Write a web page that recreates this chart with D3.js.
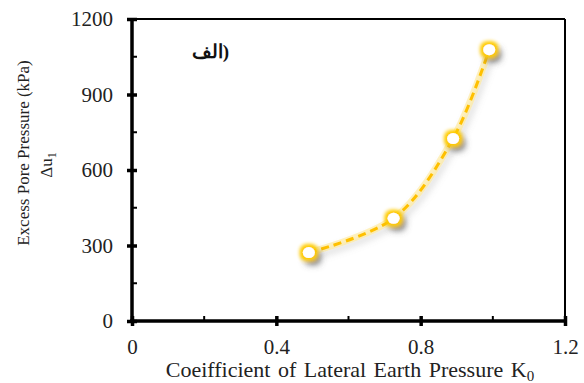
<!doctype html>
<html>
<head>
<meta charset="utf-8">
<script src="https://d3js.org/d3.v7.min.js"></script>
<style>
    body { margin: 0; background: #fff; }
    text { font-family: "Liberation Serif", "Times New Roman", serif; }
</style>
</head>
<body>
<svg width="584" height="383"></svg>
<script>
    var k0 = [0.49, 0.725, 0.89, 0.99];
    var du = [272, 408, 725, 1078];
    var xTicks = [0, 0.4, 0.8, 1.2];
    var yTicks = [0, 300, 600, 900, 1200];

    var svg = d3.select("svg"),
        pLeft = 132, pRight = 565, pTop = 19, pBottom = 321;

    var x = d3.scaleLinear().domain([0, 1.2]).range([pLeft, pRight]),
        y = d3.scaleLinear().domain([0, 1200]).range([pBottom, pTop]);

    var defs = svg.append("defs");
    var glow = defs.append("filter").attr("id", "glow")
        .attr("x", "-150%").attr("y", "-150%").attr("width", "400%").attr("height", "400%");
    glow.append("feMorphology").attr("in", "SourceAlpha").attr("operator", "dilate").attr("radius", 2).attr("result", "d1");
    glow.append("feGaussianBlur").attr("in", "d1").attr("stdDeviation", 3).attr("result", "b1");
    glow.append("feOffset").attr("in", "b1").attr("dx", 4).attr("dy", 5).attr("result", "o1");
    glow.append("feFlood").attr("flood-color", "#555").attr("flood-opacity", 0.75);
    glow.append("feComposite").attr("in2", "o1").attr("operator", "in").attr("result", "shadow");
    glow.append("feMorphology").attr("in", "SourceAlpha").attr("operator", "dilate").attr("radius", 2).attr("result", "d2");
    glow.append("feGaussianBlur").attr("in", "d2").attr("stdDeviation", 2).attr("result", "b2");
    glow.append("feFlood").attr("flood-color", "#ffcc00").attr("flood-opacity", 1);
    glow.append("feComposite").attr("in2", "b2").attr("operator", "in").attr("result", "yel");
    var m = glow.append("feMerge");
    m.append("feMergeNode").attr("in", "shadow");
    m.append("feMergeNode").attr("in", "yel");
    m.append("feMergeNode").attr("in", "yel");
    m.append("feMergeNode").attr("in", "SourceGraphic");

    var lglow = defs.append("filter").attr("id", "lglow")
        .attr("x", "-20%").attr("y", "-20%").attr("width", "140%").attr("height", "140%");
    lglow.append("feGaussianBlur").attr("in", "SourceAlpha").attr("stdDeviation", 3).attr("result", "b1");
    lglow.append("feOffset").attr("in", "b1").attr("dx", 3).attr("dy", 4).attr("result", "o1");
    lglow.append("feFlood").attr("flood-color", "#888").attr("flood-opacity", 0.45);
    lglow.append("feComposite").attr("in2", "o1").attr("operator", "in").attr("result", "shadow");
    var lm = lglow.append("feMerge");
    lm.append("feMergeNode").attr("in", "shadow");
    lm.append("feMergeNode").attr("in", "SourceGraphic");

    // frame
    svg.append("line").attr("x1", pLeft).attr("x2", pRight).attr("y1", pTop).attr("y2", pTop)
        .attr("stroke", "#000").attr("stroke-width", 2);
    svg.append("line").attr("x1", pRight).attr("x2", pRight).attr("y1", pTop).attr("y2", pBottom)
        .attr("stroke", "#000").attr("stroke-width", 2);

    // minor ticks
    [150, 450, 750, 1050].forEach(function(v) {
        svg.append("line").attr("x1", pLeft).attr("x2", pLeft + 5).attr("y1", y(v)).attr("y2", y(v))
            .attr("stroke", "#000").attr("stroke-width", 2);
    });
    [0.2, 0.6, 1.0].forEach(function(v) {
        svg.append("line").attr("x1", x(v)).attr("x2", x(v)).attr("y1", pBottom).attr("y2", pBottom - 5)
            .attr("stroke", "#000").attr("stroke-width", 2);
    });

    var yAxis = svg.append("g").attr("transform", "translate(" + pLeft + ",0)")
        .call(d3.axisLeft(y).tickValues(yTicks).tickSize(5).tickPadding(14)
            .tickFormat(function(d) { return d; }));
    var xAxis = svg.append("g").attr("transform", "translate(0," + pBottom + ")")
        .call(d3.axisBottom(x).tickValues(xTicks).tickSize(5).tickPadding(13)
            .tickFormat(function(d) { return d; }));

    [yAxis, xAxis].forEach(function(a) {
        a.select(".domain").attr("stroke-width", 3.5);
        a.selectAll(".tick line").attr("stroke-width", 3.5);
        a.selectAll(".tick text").attr("font-size", 21).attr("fill", "#222");
    });
    yAxis.select(".domain").attr("d", "M0," + (pBottom + 2) + "V" + pTop);
    xAxis.select(".domain").attr("d", "M" + (pLeft - 2) + ",0H" + pRight);
    // major ticks cross the axis
    yAxis.selectAll(".tick line").attr("x1", 5).attr("x2", -5);
    xAxis.selectAll(".tick line").attr("y1", -5).attr("y2", 5);

    var pts = k0.map(function(d, i) { return [d, du[i]]; });
    var line = d3.line().x(function(d) { return x(d[0]); }).y(function(d) { return y(d[1]); })
        .curve(d3.curveCatmullRom);

    svg.append("path").datum(pts).attr("d", line)
        .attr("fill", "none").attr("stroke", "#ffe680").attr("stroke-width", 7).attr("stroke-opacity", 0.5)
        .attr("filter", "url(#lglow)");
    svg.append("path").datum(pts).attr("d", line)
        .attr("fill", "none").attr("stroke", "#ffc000").attr("stroke-width", 3)
        .attr("stroke-dasharray", "8,5");

    svg.selectAll(".pt").data(pts).enter().append("ellipse")
        .attr("class", "pt")
        .attr("cx", function(d) { return x(d[0]); })
        .attr("cy", function(d) { return y(d[1]); })
        .attr("rx", 6).attr("ry", 5.5)
        .attr("fill", "#fff")
        .attr("filter", "url(#glow)");

    // labels
    var xt = svg.append("text").attr("x", 350).attr("y", 377).attr("text-anchor", "middle")
        .attr("font-size", 22).attr("word-spacing", 2).attr("fill", "#222");
    xt.append("tspan").text("Coeifficient of Lateral Earth Pressure K");
    xt.append("tspan").attr("font-size", 15).attr("dy", 4).text("0");

    svg.append("text").attr("transform", "translate(29,153) rotate(-90)")
        .attr("text-anchor", "middle").attr("font-size", 17).attr("fill", "#222")
        .text("Excess Pore Pressure (kPa)");
    var dt = svg.append("text").attr("transform", "translate(52,165) rotate(-90)")
        .attr("text-anchor", "middle").attr("font-size", 17).attr("fill", "#222");
    dt.append("tspan").text("\u0394u");
    dt.append("tspan").attr("font-size", 12).attr("dy", 4).text("1");

    svg.append("text").attr("x", 229).attr("y", 58).attr("direction", "rtl")
        .attr("text-anchor", "start")
        .attr("font-family", "DejaVu Sans").attr("font-weight", "bold").attr("font-size", 19)
        .attr("fill", "#111").text("(الف");
</script>
</body>
</html>
